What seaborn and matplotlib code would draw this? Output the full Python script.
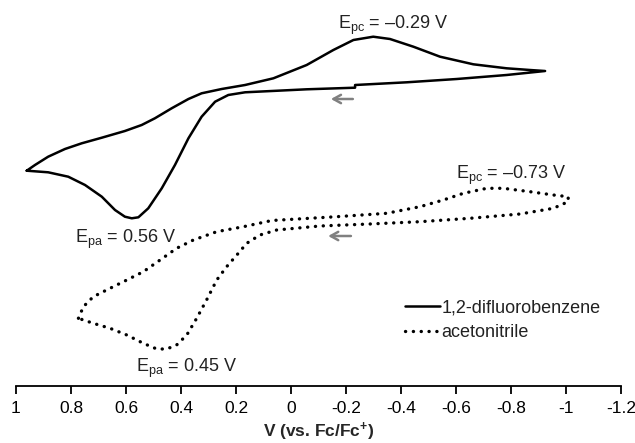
import matplotlib
matplotlib.use("Agg")
import matplotlib.pyplot as plt
import seaborn as sns
import pandas as pd

# ---- data (potential in V vs Fc/Fc+, current in arbitrary units) ----
dfb_v = [0.961, 0.931, 0.883, 0.822, 0.761, 0.688, 0.604, 0.543, 0.495, 0.434,
         0.373, 0.325, 0.252, 0.167, 0.064, -0.057, -0.154, -0.227, -0.299, -0.360,
         -0.445, -0.542, -0.663, -0.784, -0.869, -0.924,
         -0.784, -0.603, -0.421, -0.233, -0.233, -0.057, 0.167, 0.228, 0.276, 0.325,
         0.373, 0.422, 0.470, 0.519, 0.555, 0.579, 0.604, 0.640, 0.688, 0.749,
         0.810, 0.883, 0.961]
dfb_i = [215.3, 221, 229.3, 237, 242.7, 248.3, 255, 261, 267.7, 277.7,
         287, 292.7, 297, 301, 307.7, 321, 336, 346, 349.3, 347,
         339.3, 329.3, 321.7, 317.7, 316, 315,
         311, 307, 303.7, 301, 298.3, 296.7, 293.7, 291, 284.3, 269.3,
         247.7, 221, 197.7, 177.7, 168.7, 167.7, 169.3, 176, 189.3, 201,
         209.3, 213.7, 215.3]

mecn_v = [0.773, 0.755, 0.719, 0.658, 0.597, 0.537, 0.476, 0.416, 0.355, 0.270,
          0.173, 0.070, -0.166, -0.348, -0.469, -0.554, -0.627, -0.712, -0.772, -0.869,
          -0.954, -1.008, -1.008, -0.954, -0.833, -0.651, -0.469, -0.287, -0.105, 0.052,
          0.113, 0.161, 0.197, 0.234, 0.270, 0.307, 0.343, 0.379, 0.416, 0.452,
          0.488, 0.537, 0.597, 0.658, 0.719, 0.773]
mecn_i = [67.7, 79.3, 89.3, 97.7, 106, 114.3, 126, 137.7, 146, 154.3,
          159.3, 165.5, 169.3, 172.7, 179.3, 186, 192.7, 197.7, 197.7, 194.3,
          191, 189.3, 184.3, 177.7, 172, 167.7, 164.3, 162, 160, 156,
          151, 142.7, 131, 119.3, 106, 86, 67.7, 51, 41, 37,
          37, 42.7, 51, 57.7, 62.7, 67.7]

series_names = ["1,2-difluorobenzene", "acetonitrile"]
x_ticks = [1, 0.8, 0.6, 0.4, 0.2, 0, -0.2, -0.4, -0.6, -0.8, -1, -1.2]
x_tick_labels = ["1", "0.8", "0.6", "0.4", "0.2", "0", "-0.2", "-0.4", "-0.6", "-0.8", "-1", "-1.2"]

peak_labels = ["E$_{\\mathrm{pc}}$ = \u20130.29 V", "E$_{\\mathrm{pa}}$ = 0.56 V",
               "E$_{\\mathrm{pc}}$ = \u20130.73 V", "E$_{\\mathrm{pa}}$ = 0.45 V"]
peak_xy = [(-0.37, 361), (0.60, 147), (-0.80, 211), (0.38, 18)]

# ---- style ----
sns.set_theme(style="white")
plt.rcParams["font.family"] = ["Liberation Sans", "DejaVu Sans"]
plt.rcParams["axes.unicode_minus"] = False
plt.rcParams["mathtext.fontset"] = "custom"
plt.rcParams["mathtext.rm"] = "Liberation Sans"
plt.rcParams["mathtext.it"] = "Liberation Sans:italic"
plt.rcParams["mathtext.bf"] = "Liberation Sans:bold"

df1 = pd.DataFrame({"V": dfb_v, "I": dfb_i, "solvent": series_names[0]})
df2 = pd.DataFrame({"V": mecn_v, "I": mecn_i, "solvent": series_names[1]})

fig = plt.figure(figsize=(6.35, 4.43), dpi=100)
ax = fig.add_axes([16 / 635, 57 / 443, 605 / 635, 386 / 443])

sns.lineplot(data=df1, x="V", y="I", sort=False, estimator=None, ax=ax,
             color="black", linewidth=1.8, label=series_names[0])
sns.lineplot(data=df2, x="V", y="I", sort=False, estimator=None, ax=ax,
             color="black", linewidth=2.4, label=series_names[1])
l1 = ax.lines[0]
l1.set_solid_joinstyle("round")
l2 = ax.lines[1]
l2.set_linestyle((0, (0.05, 2.3)))
l2.set_dash_capstyle("round")

ax.set_xlim(1, -1.2)
ax.set_ylim(0, 386)
ax.set_xticks(x_ticks)
ax.set_xticklabels(x_tick_labels, fontsize=12.5)
ax.set_yticks([])
ax.set_ylabel("")
ax.set_xlabel("V (vs. Fc/Fc$^{\\mathbf{+}}$)", fontsize=12.5, fontweight="bold", labelpad=4)
for s in ["left", "right", "top"]:
    ax.spines[s].set_visible(False)
ax.spines["bottom"].set_color("black")
ax.spines["bottom"].set_linewidth(1.3)
ax.tick_params(axis="x", direction="out", length=6, width=1.3, color="black",
               pad=4.5, bottom=True, labelcolor="black")

for txt, (xx, yy) in zip(peak_labels, peak_xy):
    ax.text(xx, yy, txt, fontsize=13, ha="center", va="center", color="#222222")

# scan direction arrows
for (x0, x1, yy) in [(-0.235, -0.135, 287), (-0.228, -0.125, 150)]:
    ax.annotate("", xy=(x1, yy), xytext=(x0, yy),
                arrowprops=dict(arrowstyle="->,head_length=0.45,head_width=0.25",
                                color="#808080", lw=1.8))

leg = ax.legend(loc="upper left", bbox_to_anchor=(382 / 605, 1 - 292 / 386),
                frameon=False, fontsize=13, handlelength=1.9, handletextpad=0.1,
                labelspacing=0.45, borderaxespad=0)
leg.get_lines()[1].set_linestyle((0, (0.05, 2.3)))
leg.get_lines()[1].set_dash_capstyle("round")
for t in leg.get_texts():
    t.set_color("#222222")

fig.savefig("out.png", dpi=100)
